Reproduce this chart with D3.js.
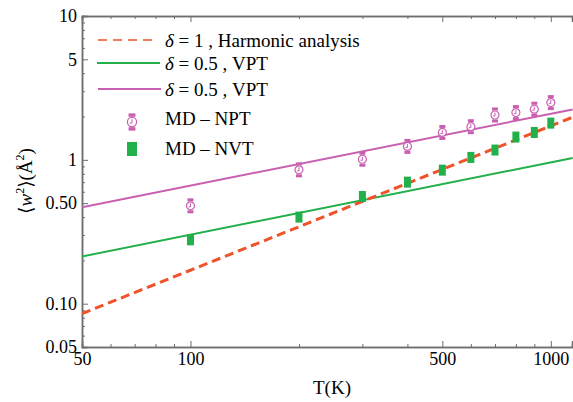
<!DOCTYPE html>
<html>
<head>
<meta charset="utf-8">
<script src="https://cdn.jsdelivr.net/npm/d3@7"></script>
<style>
  body { margin: 0; background: #fff; }
  svg { display: block; font-family: "Liberation Serif", "DejaVu Serif", serif; }
</style>
</head>
<body>
<svg id="chart" width="573" height="402"></svg>
<script>
// Data -----------------------------------------
var lineT = [50, 1150];
var harmonic = [0.0853, 1.98];      // delta = 1, harmonic analysis
var vptLow = [0.213, 1.03];         // delta = 0.5, VPT (green)
var vptHigh = [0.469, 2.24];        // delta = 0.5, VPT (pink)

var mdT = [100, 200, 300, 400, 500, 600, 700, 800, 900, 1000];
var mdNPT = [0.479, 0.852, 1.01, 1.24, 1.55, 1.70, 2.05, 2.13, 2.25, 2.50];
var mdNVT = [0.278, 0.40, 0.556, 0.70, 0.848, 1.04, 1.17, 1.44, 1.55, 1.80];

var xMajor = [50, 100, 500, 1000];
var xMinor = [60, 70, 80, 90, 200, 300, 400, 600, 700, 800, 900];
var yMajor = [0.05, 0.1, 0.5, 1, 5, 10];
var yMajorLabels = ["0.05", "0.10", "0.50", "1", "5", "10"];
var yMinor = [0.06, 0.07, 0.08, 0.09, 0.2, 0.3, 0.4, 0.6, 0.7, 0.8, 0.9, 2, 3, 4, 6, 7, 8, 9];

var orange = "#f0522a", green = "#22b04a", pink = "#c95fb0", axisGray = "#6e6e6e";

var svg = d3.select("#chart");
var pLeft = 82, pRight = 575, pTop = 16, pBottom = 347;

// Scales ---------------------------------------
var x = d3.scaleLog().domain([50, 1145]).range([pLeft, 572]);
var y = d3.scaleLog().domain([0.05, 10]).range([pBottom, pTop]);

svg.append("clipPath").attr("id", "clip")
    .append("rect")
    .attr("x", pLeft).attr("y", pTop)
    .attr("width", pRight - pLeft).attr("height", pBottom - pTop);

// Axes -----------------------------------------
function styleAxis(g) {
    g.select(".domain").attr("stroke", axisGray).attr("stroke-width", 1.5);
    g.selectAll(".tick line").attr("stroke", axisGray).attr("stroke-width", 1);
    g.selectAll(".tick text").attr("fill", "#000").attr("font-size", 18)
        .attr("font-family", "Liberation Serif, serif");
}

svg.append("g")
    .attr("transform", "translate(0," + pBottom + ")")
    .call(d3.axisBottom(x).tickValues(xMinor).tickSize(-3).tickFormat(""))
    .call(styleAxis);
svg.append("g")
    .attr("transform", "translate(0," + pBottom + ")")
    .call(d3.axisBottom(x).tickValues(xMajor).tickSize(-6).tickPadding(5)
        .tickFormat(function(d) { return d; }))
    .call(styleAxis);

svg.append("g")
    .attr("transform", "translate(0," + pTop + ")")
    .call(d3.axisTop(x).tickValues(xMinor).tickSize(-3).tickFormat(""))
    .call(styleAxis);
svg.append("g")
    .attr("transform", "translate(0," + pTop + ")")
    .call(d3.axisTop(x).tickValues(xMajor).tickSize(-6).tickFormat(""))
    .call(styleAxis);

svg.append("g")
    .attr("transform", "translate(" + pLeft + ",0)")
    .call(d3.axisLeft(y).tickValues(yMinor).tickSize(-3).tickFormat(""))
    .call(styleAxis);
svg.append("g")
    .attr("transform", "translate(" + pLeft + ",0)")
    .call(d3.axisLeft(y).tickValues(yMajor).tickSize(-6).tickPadding(5)
        .tickFormat(function(d, i) { return yMajorLabels[i]; }))
    .call(styleAxis);

// Axis titles
svg.append("text")
    .attr("x", 332).attr("y", 394)
    .attr("text-anchor", "middle")
    .attr("font-size", 19)
    .text("T(K)");

var ylab = svg.append("text")
    .attr("transform", "translate(32,181) rotate(-90)")
    .attr("text-anchor", "middle")
    .attr("font-size", 19);
ylab.append("tspan").text("\u27E8");
ylab.append("tspan").attr("font-style", "italic").text("w");
ylab.append("tspan").attr("font-size", 12).attr("dy", -8).text("2");
ylab.append("tspan").attr("dy", 8).text("\u27E9(\u00C5");
ylab.append("tspan").attr("font-size", 12).attr("dy", -8).text("2");
ylab.append("tspan").attr("dy", 8).text(")");

// Lines ----------------------------------------
var plot = svg.append("g").attr("clip-path", "url(#clip)");

function drawLine(vals, color, width, dash) {
    var line = d3.line()
        .x(function(d, i) { return x(lineT[i]); })
        .y(function(d) { return y(d); });
    plot.append("path")
        .datum(vals)
        .attr("d", line)
        .attr("fill", "none")
        .attr("stroke", color)
        .attr("stroke-width", width)
        .attr("stroke-dasharray", dash);
}

drawLine(vptLow, green, 2, null);
drawLine(vptHigh, pink, 2, null);
drawLine(harmonic, orange, 3, "9,5");

// Markers --------------------------------------
function npt(g, s) {
    g.append("rect").attr("x", -3 * s).attr("y", -7.5 * s)
        .attr("width", 6 * s).attr("height", 3 * s).attr("fill", pink);
    g.append("rect").attr("x", -3 * s).attr("y", 4.5 * s)
        .attr("width", 6 * s).attr("height", 3 * s).attr("fill", pink);
    g.append("circle").attr("r", 4 * s)
        .attr("fill", "#fff").attr("stroke", pink).attr("stroke-width", 1.2);
    g.append("path").attr("d", "M0," + (-2.5 * s) + "V" + (1 * s) + "H" + (-2 * s))
        .attr("fill", "none").attr("stroke", pink).attr("stroke-width", 1);
}

function nvt(g, w, h) {
    g.append("rect").attr("x", -w / 2).attr("y", -h / 2)
        .attr("width", w).attr("height", h).attr("fill", green);
}

plot.selectAll(".nvt")
    .data(mdT)
    .enter()
    .append("g")
    .attr("class", "nvt")
    .attr("transform", function(d, i) { return "translate(" + x(d) + "," + y(mdNVT[i]) + ")"; })
    .each(function() { nvt(d3.select(this), 7, 11); });

plot.selectAll(".npt")
    .data(mdT)
    .enter()
    .append("g")
    .attr("class", "npt")
    .attr("transform", function(d, i) { return "translate(" + x(d) + "," + y(mdNPT[i]) + ")"; })
    .each(function() { npt(d3.select(this), 1); });

// Legend ---------------------------------------
var legend = svg.append("g").attr("font-size", 19);

legend.append("line").attr("x1", 98).attr("x2", 158).attr("y1", 40).attr("y2", 40)
    .attr("stroke", orange).attr("stroke-width", 1.5).attr("stroke-dasharray", "9,6");
legend.append("line").attr("x1", 97).attr("x2", 160).attr("y1", 63).attr("y2", 63)
    .attr("stroke", green).attr("stroke-width", 2);
legend.append("line").attr("x1", 98).attr("x2", 161).attr("y1", 89).attr("y2", 89)
    .attr("stroke", pink).attr("stroke-width", 2);

npt(legend.append("g").attr("transform", "translate(132,122)"), 1.15);
nvt(legend.append("g").attr("transform", "translate(132,149)"), 10, 14);

var legendLabels = [
    ["\u03B4", " = 1 , Harmonic analysis"],
    ["\u03B4", " = 0.5 , VPT"],
    ["\u03B4", " = 0.5 , VPT"]
];
var legendY = [47, 70, 96];
legendLabels.forEach(function(l, i) {
    var t = legend.append("text").attr("x", 165).attr("y", legendY[i]);
    t.append("tspan").attr("font-style", "italic").text(l[0]);
    t.append("tspan").text(l[1]);
});
legend.append("text").attr("x", 165).attr("y", 125).text("MD \u2013 NPT");
legend.append("text").attr("x", 165).attr("y", 155).text("MD \u2013 NVT");
</script>
</body>
</html>
